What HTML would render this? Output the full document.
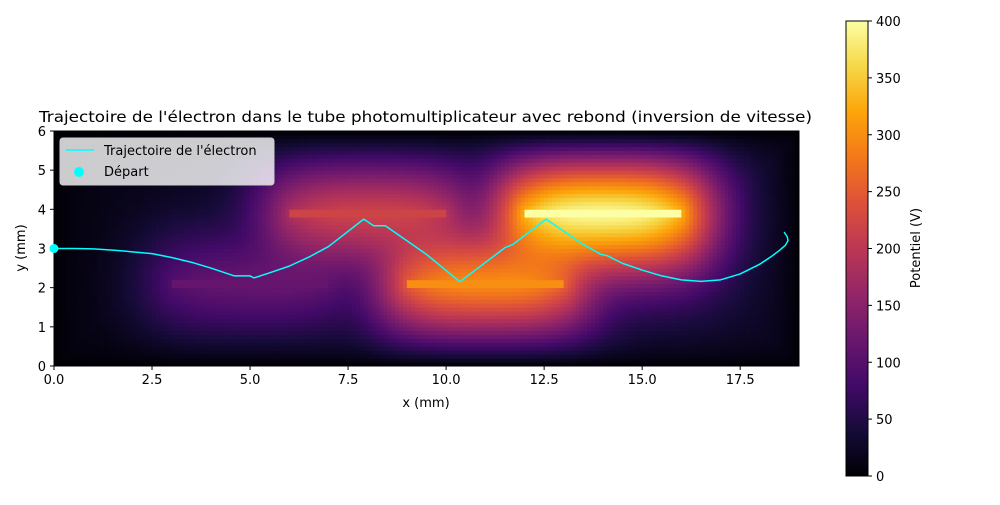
<!DOCTYPE html>
<html><head><meta charset="utf-8"><style>
body{margin:0;background:#fff;width:1000px;height:500px;overflow:hidden}
svg text{font-family:"DejaVu Sans","Liberation Sans",sans-serif;fill:#000}
</style></head><body>
<svg id="c" width="1000" height="500">
<defs><linearGradient id="inf" x1="0" y1="1" x2="0" y2="0">
<stop offset="0" stop-color="#000004"/><stop offset="0.1" stop-color="#160b39"/><stop offset="0.2" stop-color="#420a68"/><stop offset="0.3" stop-color="#6a176e"/><stop offset="0.4" stop-color="#932667"/><stop offset="0.5" stop-color="#bc3754"/><stop offset="0.6" stop-color="#dd513a"/><stop offset="0.7" stop-color="#f37819"/><stop offset="0.8" stop-color="#fca50a"/><stop offset="0.9" stop-color="#f6d746"/><stop offset="1" stop-color="#fcffa4"/></linearGradient>
<clipPath id="clip"><rect x="54" y="131" width="745" height="235"/></clipPath></defs>
<g id="heat" clip-path="url(#clip)"></g>
<g id="traj" clip-path="url(#clip)"></g>
<rect x="54" y="131" width="745" height="235" fill="none" stroke="#000" stroke-width="1"/>
<g id="axes"></g>
<text x="39" y="122" font-size="15" textLength="773" lengthAdjust="spacingAndGlyphs">Trajectoire de l'électron dans le tube photomultiplicateur avec  rebond (inversion de vitesse)</text>
<text x="426" y="407" font-size="13" text-anchor="middle">x (mm)</text>
<text x="25" y="248" font-size="13" text-anchor="middle" transform="rotate(-90 25 248)">y (mm)</text>
<g>
<rect x="60" y="138" width="214" height="47" rx="3" fill="#fff" fill-opacity="0.8" stroke="#ccc"/>
<line x1="66" y1="150" x2="94" y2="150" stroke="#00ffff" stroke-width="1.5"/>
<text x="104" y="155" font-size="13">Trajectoire de l'électron</text>
<circle cx="79" cy="172" r="5" fill="#00ffff"/>
<text x="104" y="176" font-size="13">Départ</text>
</g>
<rect x="846" y="21" width="22" height="455" fill="url(#inf)" stroke="#000" stroke-width="1"/>
<g id="cbar"></g>
<text x="920" y="248" font-size="13" text-anchor="middle" transform="rotate(-90 920 248)">Potentiel (V)</text>
</svg>
<script>
const xTicks=[0,2.5,5,7.5,10,12.5,15,17.5];
const yTicks=[0,1,2,3,4,5,6];
const cTicks=[0,50,100,150,200,250,300,350,400];
const plateX0=[3,6,9,12];
const plateX1=[7,10,13,16];
const plateY=[2.1,3.9,2.1,3.9];
const plateV=[115,220,300,400];
const trajX=[0,0.5,1,1.5,2.5,3,3.5,4,4.6,5.0,5.1,5.5,6,6.5,7,7.9,8.15,8.45,9.5,10.35,11.5,11.7,12.55,13.5,13.95,14.1,14.5,15,15.5,16,16.5,17,17.5,18,18.3,18.5,18.65,18.72,18.7,18.62];
const trajY=[3,3,2.99,2.96,2.87,2.77,2.65,2.5,2.3,2.3,2.25,2.38,2.55,2.78,3.05,3.75,3.58,3.58,2.85,2.15,3.02,3.1,3.75,3.1,2.85,2.82,2.62,2.45,2.3,2.2,2.16,2.2,2.35,2.6,2.8,2.95,3.08,3.2,3.3,3.42];
const startX=[0],startY=[3];
const NS="http://www.w3.org/2000/svg";
const sx=v=>54+v*745/19, sy=v=>366-v*235/6, cy=v=>476-v*455/400;
const stops=[[0,0,4],[22,11,57],[66,10,104],[106,23,110],[147,38,103],[188,55,84],[221,81,58],[243,120,25],[252,165,10],[246,215,70],[252,255,164]];
function cmap(t){t=Math.max(0,Math.min(1,t))*10;const i=Math.min(9,Math.floor(t)),f=t-i,a=stops[i],b=stops[i+1];return`rgb(${a.map((c,k)=>Math.round(c+(b[k]-c)*f)).join(',')})`;}
function mk(tag,at,p){const e=document.createElementNS(NS,tag);for(const k in at)e.setAttribute(k,at[k]);(p||document.getElementById('c')).appendChild(e);return e;}
function erf(x){const s=Math.sign(x);x=Math.abs(x);const t=1/(1+0.3275911*x);const y=1-(((((1.061405429*t-1.453152027)*t)+1.421413741)*t-0.284496736)*t+0.254829592)*t*Math.exp(-x*x);return s*y;}
function taper(de){return 1-Math.exp(-de/0.5);}
const heat=document.getElementById('heat');
const d=0.1,NX=190,NY=60,SX=0.9*Math.SQRT2,SY2=2*1.2*1.2,EXT=0.6,P=3;
for(let i=0;i<NX;i++)for(let j=0;j<NY;j++){
 const x=(i+0.5)*d,y=(j+0.5)*d;let acc=0,pv=0;
 for(let p=0;p<plateV.length;p++){
  const dx=x<plateX0[p]?plateX0[p]-x:(x>plateX1[p]?x-plateX1[p]:0),dy=y-plateY[p];
  if(dx===0&&Math.abs(dy)<0.12)pv=Math.max(pv,plateV[p]);
  const px=0.5*(erf((x-plateX0[p]+EXT)/SX)-erf((x-plateX1[p]-EXT)/SX));
  const py=Math.exp(-dy*dy/SY2);
  const r=Math.sqrt(dx*dx+(dy/1.5)*(dy/1.5));
  const g=plateV[p]*Math.min(1,0.72*px*py+0.3/(1+r/0.8));
  acc+=Math.pow(g,P);
 }
 let v=Math.min(395,Math.pow(acc,1/P))*taper(Math.min(x,19-x,y,6-y));
 if(pv)v=pv;
 const r=mk('rect',{x:sx(i*d),y:sy((j+1)*d),width:745/NX+0.4,height:235/NY+0.4,fill:cmap(v/400)},heat);
 
 
}
const tr=document.getElementById('traj');
const pl=mk('polyline',{points:trajX.map((x,i)=>sx(x)+','+sy(trajY[i])).join(' '),fill:'none',stroke:'#00ffff','stroke-width':1.5,'stroke-linejoin':'round'},tr);


const st=mk('circle',{cx:sx(startX[0]),cy:sy(startY[0]),r:4.5,fill:'#00ffff'});


const ax=document.getElementById('axes');
xTicks.forEach(t=>{const X=sx(t);mk('line',{x1:X,x2:X,y1:366,y2:370,stroke:'#000'},ax);
 const l=mk('text',{x:X,y:384,'font-size':13,'text-anchor':'middle'},ax);l.textContent=t.toFixed(1);
 
 });
yTicks.forEach(t=>{const Y=sy(t);mk('line',{x1:50,x2:54,y1:Y,y2:Y,stroke:'#000'},ax);
 const l=mk('text',{x:46,y:Y+5,'font-size':13,'text-anchor':'end'},ax);l.textContent=t;
 
 });
const cb=document.getElementById('cbar');
cTicks.forEach(t=>{const Y=cy(t);mk('line',{x1:868,x2:872,y1:Y,y2:Y,stroke:'#000'},cb);
 const l=mk('text',{x:876,y:Y+5,'font-size':13},cb);l.textContent=t;
 
 });
</script>
</body></html>
